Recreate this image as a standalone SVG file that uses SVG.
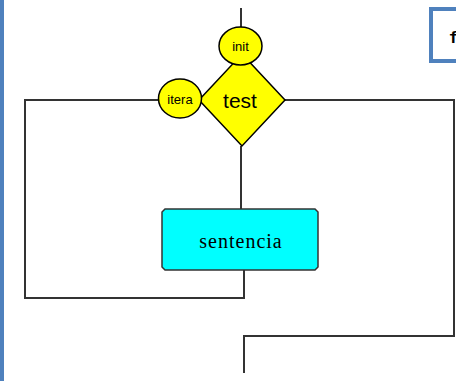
<svg xmlns="http://www.w3.org/2000/svg" width="456" height="381" viewBox="0 0 456 381">
<style>
.ln{fill:none;stroke:#333;stroke-width:2}
.yl{fill:#ffff00;stroke:#000;stroke-width:1.5}
.sm{font-family:"Liberation Sans",Arial,sans-serif;font-size:13px;fill:#000;text-anchor:middle}
</style>
<rect x="0" y="0" width="456" height="381" fill="#fff"/>
<rect x="0" y="0" width="4" height="381" fill="#4F81BD"/>
<g id="connectors">
<path class="ln" d="M241 8 V28"/>
<path class="ln" d="M241 146 V209"/>
<path class="ln" d="M158 100 H25 V298 H244 V270"/>
<path class="ln" d="M285 100 H454 V336 H244 V373"/>
</g>
<g id="test">
<polygon class="yl" points="242,54 285,100 242,146 199,100"/>
<text x="240" y="108" font-family="Liberation Sans,Arial,sans-serif" font-size="21" text-anchor="middle">test</text>
</g>
<g id="init">
<ellipse class="yl" cx="240.5" cy="46" rx="21.5" ry="19"/>
<text class="sm" x="240.5" y="51">init</text>
</g>
<g id="itera">
<ellipse class="yl" cx="180" cy="98.5" rx="21.5" ry="19.5"/>
<text class="sm" x="180" y="103.5">itera</text>
</g>
<g id="sentencia">
<polygon points="165,209 315,209 318,212 318,267 315,270 165,270 162,267 162,212" fill="#00ffff" stroke="#333" stroke-width="1.5"/>
<text x="241" y="248" font-family="Liberation Serif,'Times New Roman',serif" font-size="20" letter-spacing="1" text-anchor="middle">sentencia</text>
</g>
<g id="note">
<rect x="431" y="9" width="30" height="52" fill="#fff" stroke="#4F81BD" stroke-width="4"/>
<text x="449" y="43" font-family="Liberation Mono,'Courier New',monospace" font-weight="bold" font-size="17">for</text>
</g>
</svg>
